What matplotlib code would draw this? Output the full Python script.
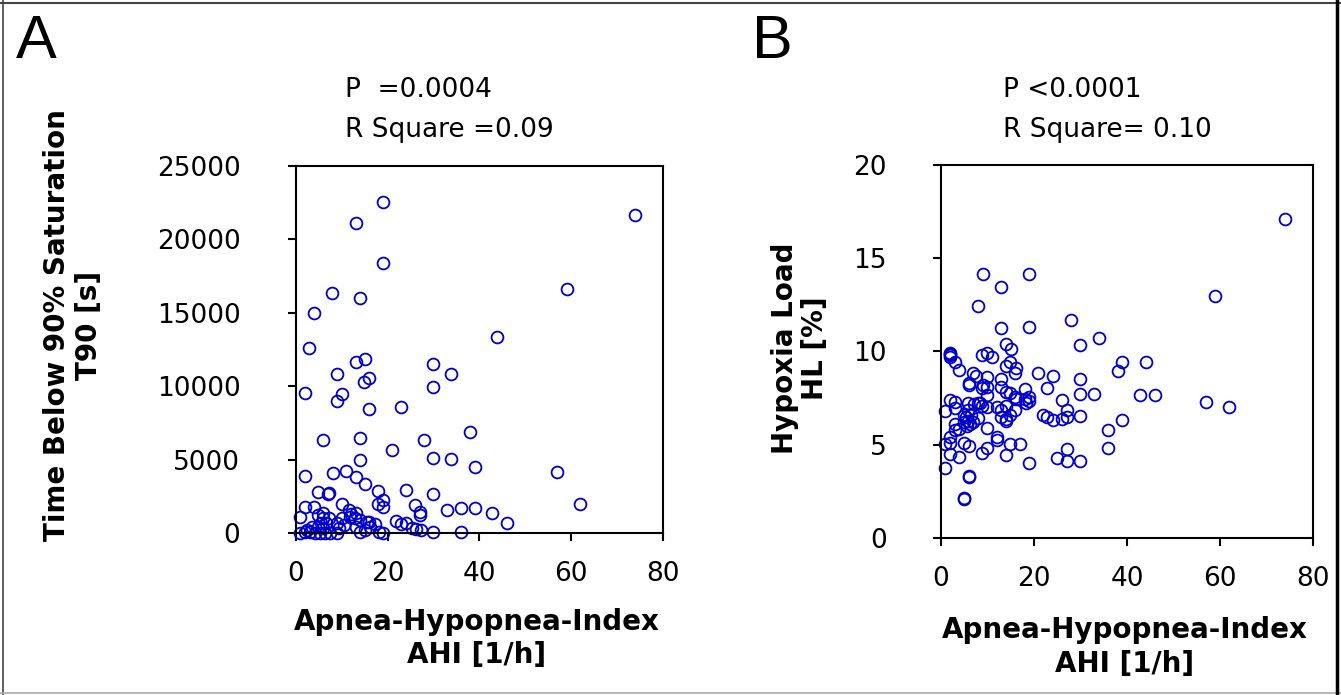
import numpy as np
import matplotlib
matplotlib.use('Agg')
import matplotlib.pyplot as plt
from matplotlib.lines import Line2D

plt.rcParams['font.family'] = ['DejaVu Sans']

## panel A : AHI vs T90
ahi_a = [19.0, 13.0, 74.0, 19.0, 7.9, 13.9, 59.0, 3.9, 43.9, 2.9,
         13.1, 15.0, 29.9, 33.9, 9.0, 14.9, 16.0, 1.9, 10.0, 8.9,
         29.9, 15.9, 23.0, 37.9, 5.9, 13.9, 27.9, 21.0, 13.9, 29.9,
         33.9, 39.0, 56.9, 2.0, 8.0, 11.0, 13.1, 15.0, 4.9, 7.0,
         7.2, 17.9, 23.9, 29.9, 18.9, 17.8, 19.0, 62.0, 25.9, 27.0,
         27.0, 33.0, 35.9, 39.0, 42.8, 45.9, 21.9, 23.0, 24.0, 25.2,
         26.1, 27.2, 29.9, 35.9, 10.0, 4.0, 2.0, 0.9,
         4.9, 5.9, 5.9, 5.5, 4.9, 5.9, 3.6, 2.5,
         0.9, 2.0, 3.1, 4.2, 5.3, 6.4, 7.5, 9.0,
         9.0, 10.0, 9.3, 11.6, 12.0, 13.0, 12.8, 11.8,
         13.9, 13.0, 13.9, 15.0, 15.4, 16.0, 17.2, 16.1,
         18.1, 19.0, 7.2, 6.5, 10.4]
t90_a = [22550, 21100, 21640, 18410, 16370, 15990, 16620, 14990, 13330, 12580,
         11650, 11850, 11530, 10830, 10850, 10260, 10580, 9510, 9450, 9010,
         9920, 8450, 8610, 6900, 6310, 6490, 6360, 5680, 4950, 5110,
         5040, 4520, 4130, 3860, 4110, 4250, 3790, 3340, 2770, 2680,
         2700, 2880, 2910, 2660, 2250, 2000, 1790, 2000, 1890, 1450,
         1230, 1550, 1720, 1720, 1380, 700, 820, 590, 660, 350,
         270, 220, 50, 90, 2000, 1770, 1790, 1070,
         1230, 1340, 1000, 660, 430, 320, 430, 200,
         0, 70, 70, 0, 0, 20, 0, 0,
         660, 1000, 320, 1570, 1270, 1340, 1000, 1110,
         890, 430, 40, 200, 720, 770, 610, 430,
         70, 20, 1000, 660, 550]

## panel B : AHI vs hypoxia load
ahi_b = [74.0, 9.0, 19.0, 12.9, 58.9, 8.0, 12.9, 18.9, 28.0, 14.0,
         15.0, 30.0, 34.0, 1.9, 1.9, 8.9, 10.0, 11.0,
         39.0, 44.0, 38.0, 20.9, 24.0, 30.0, 30.0, 32.9, 42.9, 46.0,
         56.9, 61.9, 22.9, 26.0, 22.0, 22.7, 24.0, 26.0, 27.0, 27.0,
         30.0, 39.0, 36.0, 36.0, 27.0, 24.9, 27.0, 30.0, 18.9, 17.0,
         14.9, 14.0, 8.9, 10.0, 3.9, 1.9, 0.9, 6.0, 6.0, 4.9, 4.9,
         12.0, 12.0, 10.0, 5.0, 6.0, 1.9, 0.9, 2.0, 3.0, 3.0, 3.9,
         4.9, 5.3, 5.9, 6.4, 6.9, 5.5, 6.2, 5.0, 8.0,
         5.95, 6.0, 6.8, 7.5, 3.9, 3.0, 1.9, 1.9,
         14.0, 14.9, 16.1, 16.0, 10.0,
         8.9, 10.0, 10.0, 9.0, 12.9, 12.9, 14.0,
         14.9, 15.9, 16.1, 18.1, 18.1, 19.0, 19.0, 18.2,
         12.0, 12.9, 14.0, 14.0, 14.9, 15.9, 12.9, 14.0,
         8.9, 10.0, 8.4, 1.9, 3.0, 0.9, 3.0, 5.9, 5.9, 7.0, 8.0]
hl_b = [17.12, 14.14, 14.14, 13.48, 12.96, 12.44, 11.24, 11.31, 11.67, 10.39,
        10.13, 10.37, 10.74, 9.93, 9.81, 9.81, 9.90, 9.69,
        9.45, 9.44, 8.97, 8.83, 8.70, 8.51, 7.74, 7.70, 7.68, 7.65,
        7.29, 7.01, 8.04, 7.42, 6.61, 6.47, 6.33, 6.38, 6.47, 6.86,
        6.52, 6.33, 5.79, 4.84, 4.75, 4.31, 4.13, 4.11, 4.00, 5.06,
        5.02, 4.45, 4.57, 4.81, 4.34, 4.50, 3.77, 3.31, 3.28, 2.13, 2.10,
        5.43, 5.25, 5.92, 5.08, 4.95, 5.08, 5.04, 5.40, 5.79, 6.09, 5.82,
        6.20, 6.50, 6.30, 6.60, 6.20, 6.00, 6.10, 6.60, 6.42,
        8.29, 8.20, 8.83, 8.69, 9.01, 9.45, 9.72, 9.86,
        9.24, 9.42, 9.13, 8.83, 8.61,
        8.03, 8.08, 7.67, 8.20, 8.51, 8.12, 7.81,
        7.76, 7.58, 7.44, 7.97, 7.44, 7.58, 7.33, 7.25,
        7.04, 6.87, 7.08, 6.36, 6.59, 6.87, 6.47, 6.29,
        7.08, 7.04, 7.22, 7.40, 7.27, 6.83, 6.95, 7.26, 6.87, 7.19, 7.26]

blue = '#0000c8'

fig = plt.figure(figsize=(13.41, 6.95), dpi=100)

def setup(ax, ypad):
    for s in ax.spines.values():
        s.set_linewidth(1.5)
    ax.tick_params(direction='out', length=6, width=1.5, labelsize=19)
    ax.tick_params(axis='y', pad=ypad)
    ax.tick_params(axis='x', pad=14)
    ax.set_xlim(0, 80)
    ax.set_xticks([0, 20, 40, 60, 80])

# panel A
ax1 = fig.add_axes([0.2207, 0.2331, 0.2737, 0.5281])
ax1.plot(ahi_a, t90_a, 'o', ms=8.5, mfc='none', mec=blue, mew=1.3, clip_on=False)
ax1.set_ylim(0, 25000)
ax1.set_yticks([0, 5000, 10000, 15000, 20000, 25000])
setup(ax1, 34)

# panel B
ax2 = fig.add_axes([0.7017, 0.2259, 0.2774, 0.5367])
ax2.plot(ahi_b, hl_b, 'o', ms=8.5, mfc='none', mec=blue, mew=1.3, clip_on=False)
ax2.set_ylim(0, 20)
ax2.set_yticks([0, 5, 10, 15, 20])
setup(ax2, 33)

W, H = 1341., 695.
def ft(x, y, s, **kw):
    fig.text(x / W, 1 - y / H, s, **kw)

ft(16, 42, 'A', fontsize=44, va='center', ha='left', family='Liberation Sans')
ft(752, 42, 'B', fontsize=44, va='center', ha='left', family='Liberation Sans')

ft(345, 90, 'P  =0.0004', fontsize=19, va='center', ha='left')
ft(345, 130, 'R Square =0.09', fontsize=19, va='center', ha='left')
ft(1003, 90, 'P <0.0001', fontsize=19, va='center', ha='left')
ft(1003, 130, 'R Square= 0.10', fontsize=19, va='center', ha='left')

bold = dict(fontsize=20, fontweight='bold', ha='center', va='center')
ft(57, 325, 'Time Below 90% Saturation', rotation=90, **bold)
ft(89, 325, 'T90 [s]', rotation=90, **bold)
ft(477, 622, 'Apnea-Hypopnea-Index', **bold)
ft(477, 655, 'AHI [1/h]', **bold)

ft(785, 348, 'Hypoxia Load', rotation=90, **bold)
ft(815, 348, 'HL [%]', rotation=90, **bold)
ft(1125, 630, 'Apnea-Hypopnea-Index', **bold)
ft(1125, 664, 'AHI [1/h]', **bold)

# outer frame
fig.add_artist(Line2D([3 / W, 3 / W], [0, 1], color='#444444', lw=1.2))
fig.add_artist(Line2D([0, 1], [1 - 3 / H, 1 - 3 / H], color='#444444', lw=1.5))
fig.add_artist(Line2D([0, 1], [1 - 693 / H, 1 - 693 / H], color='#aaaaaa', lw=1.2))
fig.add_artist(Line2D([1337 / W, 1337 / W], [0, 1], color='black', lw=2.5))

plt.savefig('out.png', dpi=100)
